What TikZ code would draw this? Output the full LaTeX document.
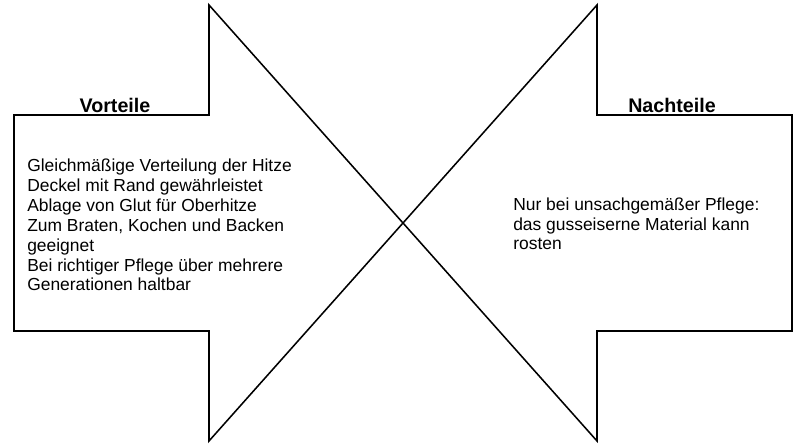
\documentclass[tikz,border=0pt]{standalone}
\usepackage{fontspec}
\setmainfont{Liberation Sans}
\begin{document}
\begin{tikzpicture}[every node/.style={inner sep=0pt, font=\fontsize{12.4}{14.2}\selectfont}]
	\useasboundingbox (0, 0) rectangle (20, 11.2);
	% Pfeil nach rechts
	\draw[line width=1.1pt] (0.35, 8.325) -- (5.225, 8.325) -- (5.225, 11.075) -- (10.075, 5.625) -- (5.225, 0.175) -- (5.225, 2.925) -- (0.35, 2.925) -- cycle;
	% Pfeil nach links
	\draw[line width=1.1pt] (19.8, 8.325) -- (14.925, 8.325) -- (14.925, 11.075) -- (10.075, 5.625) -- (14.925, 0.175) -- (14.925, 2.925) -- (19.8, 2.925) -- cycle;

	\node[anchor=base, font=\fontsize{14}{16}\selectfont\bfseries] (vorteile) at (2.875, 8.39) {Vorteile};
	\node[anchor=base, font=\fontsize{14}{16}\selectfont\bfseries] (nachteile) at (16.8, 8.39) {Nachteile};

	\node[anchor=base west, align=left] (vortext) at (0.675, 3.925) {Gleichmäßige Verteilung der Hitze\\Deckel mit Rand gewährleistet\\Ablage von Glut für Oberhitze\\Zum Braten, Kochen und Backen\\geeignet\\Bei richtiger Pflege über mehrere\\Generationen haltbar};
	\node[anchor=base west, align=left] (nachtext) at (12.825, 4.95) {Nur bei unsachgemäßer Pflege:\\das gusseiserne Material kann\\rosten};
\end{tikzpicture}
\end{document}
